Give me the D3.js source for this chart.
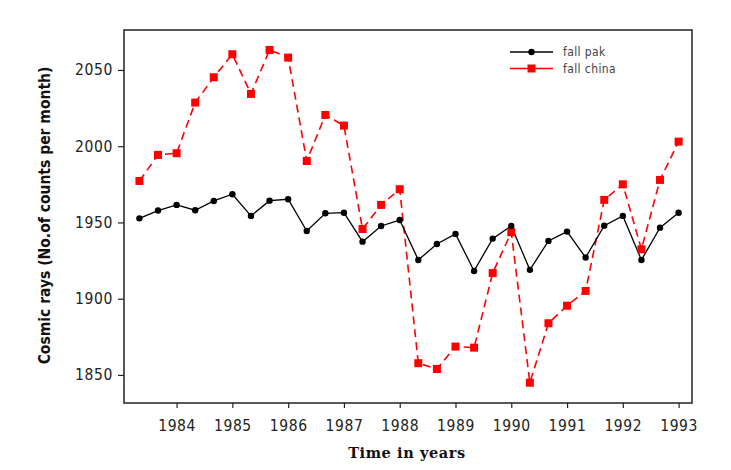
<!DOCTYPE html>
<html>
<head>
<meta charset="utf-8">
<script src="https://cdn.jsdelivr.net/npm/d3@7"></script>
<style>
  body { margin: 0; background: #fff; }
  svg { display: block; }
  .tick text { font-family: "DejaVu Sans Condensed", "DejaVu Sans", sans-serif; font-size: 15.5px; fill: #222; letter-spacing: 0.6px; }
</style>
</head>
<body>
<svg id="drawing_region"></svg>
<script>
// one reading every 4 months, 1983.33 .. 1993.0
const years = d3.range(30).map(i => 1983 + (i + 1) / 3);
const fallPak = [1952.7, 1957.8, 1961.5, 1958.0, 1964.1, 1968.5, 1954.3, 1964.3, 1965.2, 1944.4,
                 1956.0, 1956.4, 1937.4, 1947.7, 1951.6, 1925.4, 1935.9, 1942.5, 1918.2, 1939.4,
                 1947.7, 1918.9, 1937.9, 1944.0, 1927.0, 1947.9, 1954.3, 1925.4, 1946.6, 1956.4];
const fallChina = [1977.2, 1994.3, 1995.4, 2028.6, 2045.2, 2060.3, 2034.3, 2063.1, 2058.1, 1990.3,
                   2020.5, 2013.5, 1945.7, 1961.5, 1971.8, 1857.7, 1853.9, 1868.6, 1867.9, 1916.8,
                   1943.6, 1844.9, 1883.9, 1895.4, 1905.1, 1964.8, 1975.0, 1932.4, 1977.9, 2003.0];
const xTicks = [1984, 1985, 1986, 1987, 1988, 1989, 1990, 1991, 1992, 1993];
const yTicks = [1850, 1900, 1950, 2000, 2050];
const seriesNames = ["fall pak", "fall china"];

const width = 731, height = 470;
const margin = {top: 30, right: 39, bottom: 67, left: 124};
const innerW = width - margin.left - margin.right;
const innerH = height - margin.top - margin.bottom;

const svg = d3.select('#drawing_region')
    .attr('width', width)
    .attr('height', height);

const chart = svg.append('g')
    .attr('transform', `translate(${margin.left}, ${margin.top})`);

const xscale = d3.scaleLinear().domain([1983.057, 1993.24]).range([0, innerW]);
const yscale = d3.scaleLinear().domain([1831.6, 2076.2]).range([innerH, 0]);

const xaxis = d3.axisBottom(xscale).tickValues(xTicks).tickFormat(d3.format('d')).tickSize(5).tickSizeOuter(0).tickPadding(12);
const yaxis = d3.axisLeft(yscale).tickValues(yTicks).tickFormat(d3.format('d')).tickSize(6).tickSizeOuter(0).tickPadding(5);

const xg = chart.append('g').attr('transform', `translate(0, ${innerH})`).call(xaxis);
const yg = chart.append('g').call(yaxis);
[xg, yg].forEach(g => {
    g.select('.domain').remove();
    g.selectAll('.tick line').attr('stroke', '#222').attr('stroke-width', 1.2);
});

// frame
chart.append('rect')
    .attr('width', innerW).attr('height', innerH)
    .attr('fill', 'none').attr('stroke', '#222').attr('stroke-width', 1.5);

const pak = years.map((y, i) => ({year: y, v: fallPak[i]}));
const china = years.map((y, i) => ({year: y, v: fallChina[i]}));

const line = d3.line().x(d => xscale(d.year)).y(d => yscale(d.v));

chart.append('path')
    .attr('d', line(china))
    .attr('fill', 'none').attr('stroke', '#ff0000')
    .attr('stroke-width', 1.6).attr('stroke-dasharray', '8,5');

chart.append('path')
    .attr('d', line(pak))
    .attr('fill', 'none').attr('stroke', '#000').attr('stroke-width', 1.3);

chart.selectAll('rect.china')
    .data(china).enter().append('rect')
    .attr('class', 'china')
    .attr('x', d => xscale(d.year) - 4).attr('y', d => yscale(d.v) - 4)
    .attr('width', 8).attr('height', 8)
    .attr('fill', '#ff0000');

chart.selectAll('circle.pak')
    .data(pak).enter().append('circle')
    .attr('class', 'pak')
    .attr('cx', d => xscale(d.year)).attr('cy', d => yscale(d.v))
    .attr('r', 3.2).attr('fill', '#000');

// legend
const legend = chart.append('g').attr('transform', `translate(${510 - margin.left}, ${52 - margin.top})`);
seriesNames.forEach((name, i) => {
    const g = legend.append('g').attr('transform', `translate(0, ${i * 16.5})`);
    g.append('line').attr('x1', 0).attr('x2', 43).attr('y1', 0).attr('y2', 0)
        .attr('stroke', i === 0 ? '#000' : '#ff0000').attr('stroke-width', 1.3);
    if (i === 0) {
        g.append('circle').attr('cx', 21.5).attr('cy', 0).attr('r', 3.2).attr('fill', '#000');
    } else {
        g.append('rect').attr('x', 17.5).attr('y', -4).attr('width', 8).attr('height', 8).attr('fill', '#ff0000');
    }
    g.append('text').attr('x', 53).attr('y', 4)
        .attr('font-family', '"DejaVu Sans Condensed", "DejaVu Sans", sans-serif')
        .attr('font-size', '12px').attr('fill', '#444').attr('letter-spacing', '0.4px')
        .text(name);
});

// axis titles
svg.append('text')
    .attr('transform', `translate(50, ${margin.top + innerH / 2 - 1}) rotate(-90)`)
    .attr('text-anchor', 'middle')
    .attr('font-family', '"DejaVu Sans Condensed", "DejaVu Sans", sans-serif')
    .attr('font-weight', 'bold').attr('font-size', '15.5px').attr('fill', '#111')
    .text('Cosmic rays (No.of counts per month)');

svg.append('text')
    .attr('x', 407).attr('y', 458)
    .attr('text-anchor', 'middle')
    .attr('font-family', '"DejaVu Serif", "Liberation Serif", serif')
    .attr('font-weight', 'bold').attr('font-size', '14.5px').attr('fill', '#111')
    .attr('letter-spacing', '0.6px')
    .text('Time in years');
</script>
</body>
</html>
